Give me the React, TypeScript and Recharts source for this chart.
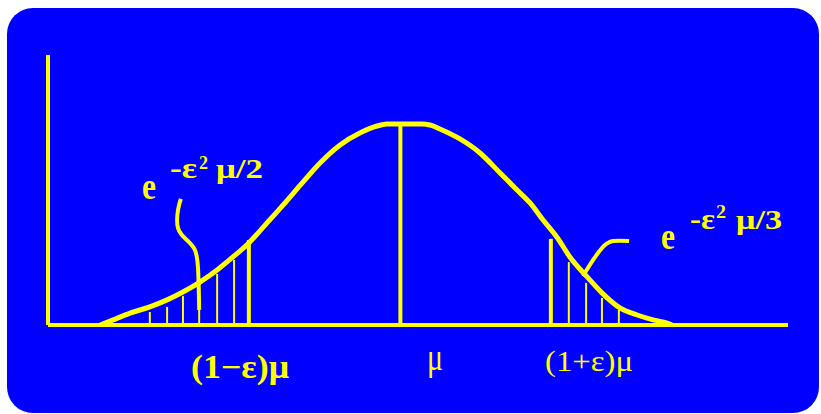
import { ComposedChart, Line, XAxis, YAxis } from "recharts";

const YELLOW = "#ffff00";
const BLUE = "#0000ff";

// bell curve (x: mu = 100, y: density scaled 0..100)
const curveX = [14.8, 16.2, 19.1, 23.3, 28.9, 33.8, 38.3, 43.1, 48.0, 52.5, 57.0, 61.6, 66.7, 72.4, 77.2, 82.9, 88.5, 93.4, 96.2, 106.1, 108.4, 111.2, 116.9, 122.6, 128.3, 133.1, 136.8, 140.5, 144.4, 148.1, 153.0, 157.2, 162.3, 167.2, 171.7, 175.7, 177.1];
const curveY = [0, 0.7, 2.2, 4.4, 6.7, 9.3, 12.2, 15.9, 20.4, 25.2, 30.4, 37.0, 44.4, 53.0, 60.0, 66.7, 71.1, 73.7, 74.4, 74.4, 74.1, 72.6, 68.9, 63.7, 56.3, 50.0, 45.2, 38.9, 32.6, 25.2, 17.8, 11.9, 6.3, 3.7, 1.9, 0.7, 0];

// vertical stems under the curve
const stemX = [28.9, 33.8, 38.3, 42.9, 48.0, 52.8, 57.0, 100, 142.7, 147.8, 152.7, 157.2, 162.0];
const stemY = [4.8, 6.7, 10.7, 15.2, 18.9, 24.1, 31.5, 74.4, 31.9, 23.3, 15.6, 10.0, 5.6];
const stemThick = [false, false, false, false, false, false, true, true, true, false, false, false, false];

// pointer strokes to the tail labels
const leftPtrX = [37.7, 36.9, 36.9, 39.4, 41.7, 42.6, 42.9];
const leftPtrY = [46.7, 42.6, 35.9, 31.5, 27.8, 20.4, 5.6];
const rightPtrX = [151.8, 154.7, 157.5, 160.3, 164.9];
const rightPtrY = [18.1, 24.1, 28.9, 31.1, 31.1];

const zip = (xs: number[], ys: number[]) => xs.map((x, i) => ({ x, y: ys[i] }));

const curve = zip(curveX, curveY);
const leftPtr = zip(leftPtrX, leftPtrY);
const rightPtr = zip(rightPtrX, rightPtrY);

const serif = "'Liberation Serif', 'Times New Roman', serif";

export default function App() {
  return (
    <div style={{ position: "absolute", left: 0, top: 0, width: 821, height: 414, background: "#fff", overflow: "hidden" }}>
      <div style={{ position: "absolute", left: 7, top: 8, width: 812, height: 405, borderRadius: 26, background: BLUE }} />
      <div style={{ position: "absolute", left: 0, top: 0 }}>
        <ComposedChart width={821} height={414} margin={{ top: 55, right: 33, bottom: 59, left: 0 }}>
          <XAxis
            type="number"
            dataKey="x"
            domain={[0, 210]}
            allowDataOverflow
            tick={false}
            tickLine={false}
            axisLine={{ stroke: YELLOW, strokeWidth: 4 }}
          />
          <YAxis
            type="number"
            dataKey="y"
            domain={[0, 100]}
            allowDataOverflow
            width={48}
            tick={false}
            tickLine={false}
            axisLine={{ stroke: YELLOW, strokeWidth: 4 }}
          />
          {stemX.map((x, i) => (
            <Line
              key={`stem-${i}`}
              data={[{ x, y: 0 }, { x, y: stemY[i] }]}
              dataKey="y"
              type="linear"
              stroke={YELLOW}
              strokeWidth={stemThick[i] ? 4 : 2}
              dot={false}
              activeDot={false}
              isAnimationActive={false}
            />
          ))}
          <Line data={curve} dataKey="y" type="monotone" stroke={YELLOW} strokeWidth={5} dot={false} activeDot={false} isAnimationActive={false} />
          <Line data={leftPtr} dataKey="y" type="natural" stroke={YELLOW} strokeWidth={4} dot={false} activeDot={false} isAnimationActive={false} />
          <Line data={rightPtr} dataKey="y" type="natural" stroke={YELLOW} strokeWidth={4} dot={false} activeDot={false} isAnimationActive={false} />
        </ComposedChart>
      </div>
      <svg width={821} height={414} style={{ position: "absolute", left: 0, top: 0 }}>
        <g fill={YELLOW} fontFamily={serif}>
          <text x={191} y={378} fontSize={33} fontWeight="bold" textLength={98} lengthAdjust="spacingAndGlyphs">(1−ε)μ</text>
          <text x={427} y={370} fontSize={38} textLength={16} lengthAdjust="spacingAndGlyphs">μ</text>
          <text x={545} y={371} fontSize={30} textLength={88} lengthAdjust="spacingAndGlyphs">(1+ε)μ</text>

          <text x={142} y={199} fontSize={38} fontWeight="bold" textLength={14} lengthAdjust="spacingAndGlyphs">e</text>
          <text x={170} y={178} fontSize={29} fontWeight="bold" textLength={27} lengthAdjust="spacingAndGlyphs">-ε</text>
          <text x={199} y={169} fontSize={18} fontWeight="bold" textLength={9} lengthAdjust="spacingAndGlyphs">2</text>
          <text x={216} y={178} fontSize={28} fontWeight="bold" textLength={47} lengthAdjust="spacingAndGlyphs">μ/2</text>

          <text x={661} y={249} fontSize={38} fontWeight="bold" textLength={14} lengthAdjust="spacingAndGlyphs">e</text>
          <text x={690} y={229} fontSize={29} fontWeight="bold" textLength={25} lengthAdjust="spacingAndGlyphs">-ε</text>
          <text x={716} y={218} fontSize={18} fontWeight="bold" textLength={10} lengthAdjust="spacingAndGlyphs">2</text>
          <text x={736} y={229} fontSize={28} fontWeight="bold" textLength={46} lengthAdjust="spacingAndGlyphs">μ/3</text>
        </g>
      </svg>
    </div>
  );
}
